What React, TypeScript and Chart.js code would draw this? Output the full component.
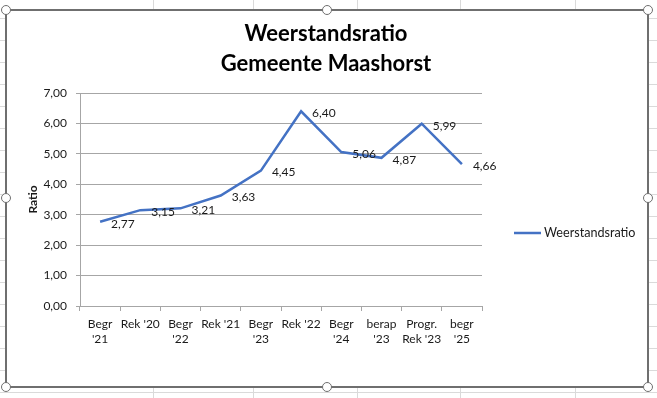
import React, { useEffect, useRef } from "react";
import { Chart, registerables } from "chart.js";

Chart.register(...registerables);

// ---- data ----
const categories: (string | string[])[] = [
  ["Begr", "'21"],
  "Rek '20",
  ["Begr", "'22"],
  "Rek '21",
  ["Begr", "'23"],
  "Rek '22",
  ["Begr", "'24"],
  ["berap", "'23"],
  ["Progr.", "Rek '23"],
  ["begr", "'25"],
];
const ratioValues = [2.77, 3.15, 3.21, 3.63, 4.45, 6.4, 5.06, 4.87, 5.99, 4.66];
const titleLines = ["Weerstandsratio", "Gemeente Maashorst"];
const seriesName = "Weerstandsratio";
const yAxisTitle = "Ratio";
const yMin = 0;
const yMax = 7;
const yStep = 1;

// ---- style ----
const FONT = "Lato, 'Open Sans', sans-serif";
const LINE_COLOR = "#4472C4";
const GRID_COLOR = "#a6a6a6";
const TEXT_COLOR = "#1a1a1a";
const W = 657;
const H = 398;

const fmt = (v: number) => v.toFixed(2).replace(".", ",");

const overlayPlugin = {
  id: "overlay",
  afterDatasetsDraw(chart: any) {
    const ctx = chart.ctx as CanvasRenderingContext2D;
    ctx.save();
    // data labels (right of point)
    const meta = chart.getDatasetMeta(0);
    ctx.font = `12px ${FONT}`;
    ctx.fillStyle = TEXT_COLOR;
    ctx.textAlign = "left";
    ctx.textBaseline = "middle";
    meta.data.forEach((pt: any, i: number) => {
      ctx.fillText(fmt(ratioValues[i]), pt.x + 11, pt.y + 2);
    });
    // title
    ctx.font = `bold 22px ${FONT}`;
    ctx.fillStyle = "#000";
    ctx.textAlign = "center";
    titleLines.forEach((line, i) => {
      ctx.fillText(line, 326, 34 + i * 30);
    });
    // legend
    ctx.strokeStyle = LINE_COLOR;
    ctx.lineWidth = 2.5;
    ctx.beginPath();
    ctx.moveTo(514, 233);
    ctx.lineTo(541, 233);
    ctx.stroke();
    ctx.font = `12.6px ${FONT}`;
    ctx.fillStyle = TEXT_COLOR;
    ctx.textAlign = "left";
    ctx.fillText(seriesName, 544, 233);
    ctx.restore();
  },
};

const ChartView: React.FC = () => {
  const ref = useRef<HTMLCanvasElement | null>(null);
  useEffect(() => {
    if (!ref.current) return;
    const chart = new Chart(ref.current, {
      type: "line",
      data: {
        labels: categories,
        datasets: [
          {
            label: seriesName,
            data: ratioValues,
            borderColor: LINE_COLOR,
            backgroundColor: LINE_COLOR,
            borderWidth: 2.5,
            pointRadius: 0,
            tension: 0,
            fill: false,
          },
        ],
      },
      options: {
        responsive: false,
        animation: false,
        events: [],
        layout: { padding: { left: 0, top: 93, right: W - 482, bottom: 32 } },
        plugins: {
          legend: { display: false },
          title: { display: false },
          tooltip: { enabled: false },
        },
        scales: {
          x: {
            type: "category",
            offset: true,
            afterFit: (s: any) => {
              s.height = H - 32 - 306;
            },
            grid: {
              display: true,
              drawOnChartArea: false,
              drawTicks: true,
              tickLength: 5,
              offset: true,
              color: GRID_COLOR,
            },
            border: { display: true, color: GRID_COLOR },
            ticks: {
              autoSkip: false,
              maxRotation: 0,
              minRotation: 0,
              padding: 5,
              color: TEXT_COLOR,
              font: { family: FONT, size: 12, lineHeight: 1.3 },
            },
          },
          y: {
            min: yMin,
            max: yMax,
            afterFit: (s: any) => {
              s.width = 80;
            },
            grid: { color: GRID_COLOR, tickLength: 4, drawTicks: true },
            border: { display: true, color: GRID_COLOR },
            ticks: {
              stepSize: yStep,
              padding: 9,
              color: TEXT_COLOR,
              font: { family: FONT, size: 12 },
              callback: (v: any) => fmt(Number(v)),
            },
            title: {
              display: true,
              text: yAxisTitle,
              color: TEXT_COLOR,
              font: { family: FONT, size: 12, weight: "bold", lineHeight: 1.2 },
              padding: { top: 26, bottom: 0 },
            },
          },
        },
      },
      plugins: [overlayPlugin],
    });
    return () => chart.destroy();
  }, []);
  return (
    <canvas
      ref={ref}
      width={W}
      height={H}
      style={{ position: "absolute", left: 0, top: 0, width: W, height: H }}
    />
  );
};

const colLines = [153, 253, 357, 460, 575];
const rowLines = Array.from({ length: 18 }, (_, k) => 18 + 22 * k);
const handles: [number, number][] = [
  [6, 10], [327, 10], [648, 10],
  [6, 198], [648, 198],
  [6, 387], [327, 387], [648, 387],
];

export default function App() {
  return (
    <div
      style={{
        position: "fixed",
        left: 0,
        top: 0,
        width: W,
        height: H,
        background: "#fff",
        overflow: "hidden",
      }}
    >
      {colLines.map((x) => (
        <div key={"c" + x} style={{ position: "absolute", left: x, top: 0, width: 1, height: H, background: "#dadada" }} />
      ))}
      {rowLines.map((y) => (
        <div key={"r" + y} style={{ position: "absolute", left: 0, top: y, width: W, height: 1, background: "#dadada" }} />
      ))}
      <div
        style={{
          position: "absolute",
          left: 5,
          top: 9,
          width: 644,
          height: 379,
          boxSizing: "border-box",
          border: "2px solid #6f6f6f",
          background: "#fff",
        }}
      />
      <ChartView />
      {handles.map(([x, y], i) => (
        <div
          key={"h" + i}
          style={{
            position: "absolute",
            left: x - 5,
            top: y - 5,
            width: 10,
            height: 10,
            boxSizing: "border-box",
            borderRadius: "50%",
            border: "1.5px solid #6f6f6f",
            background: "#fff",
          }}
        />
      ))}
    </div>
  );
}
